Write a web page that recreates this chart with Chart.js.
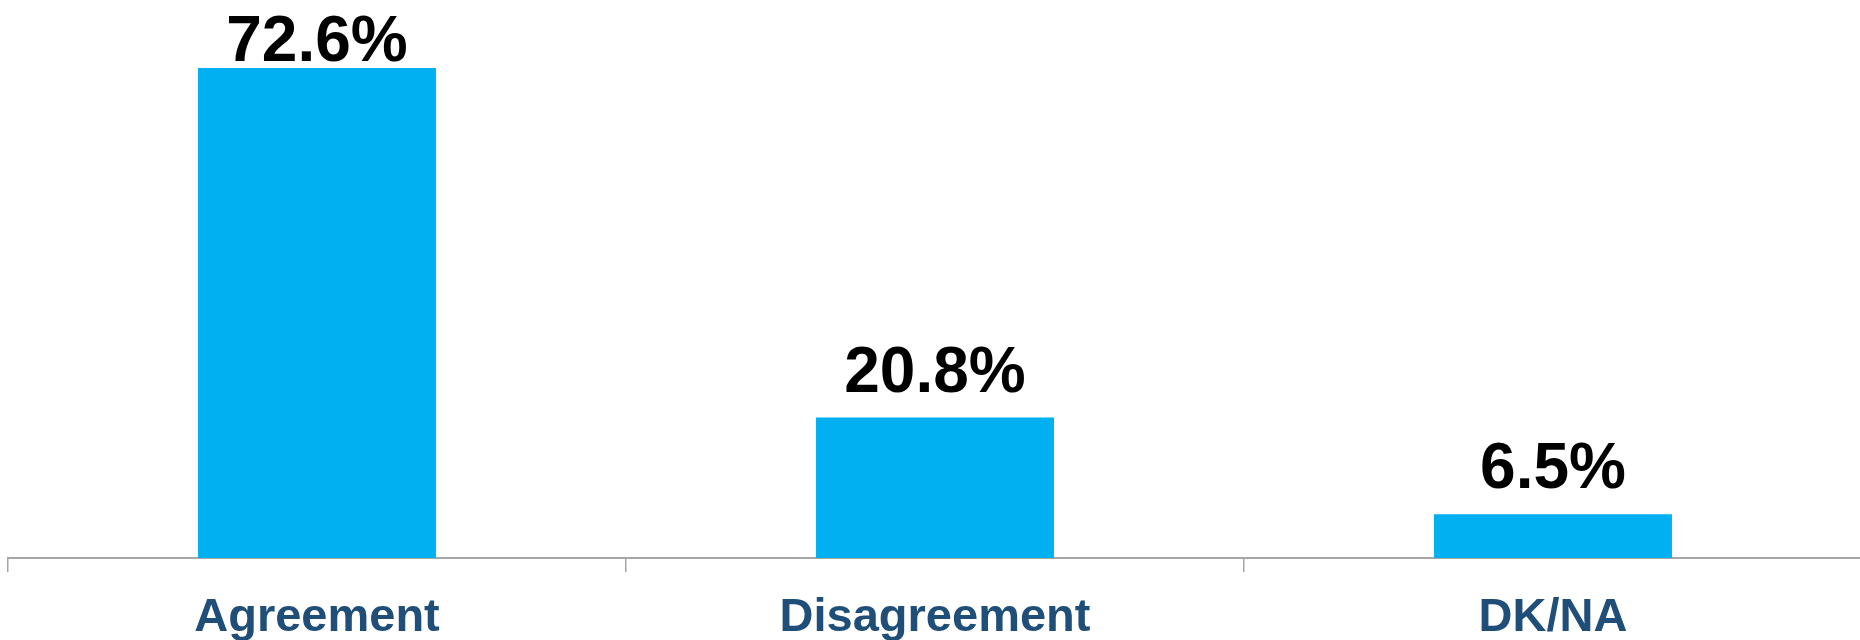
<!DOCTYPE html>
<html>
<head>
<meta charset="utf-8">
<script src="https://cdn.jsdelivr.net/npm/chart.js@4.4.1/dist/chart.umd.min.js"></script>
<style>
  html, body { margin: 0; padding: 0; background: #fff; overflow: hidden; }
  #wrap { width: 1870px; height: 640px; }
</style>
</head>
<body>
<div id="wrap"><canvas id="resChart" width="1870" height="640"></canvas></div>
<script>
const categories = ['Agreement', 'Disagreement', 'DK/NA'];
const shares = [72.6, 20.8, 6.5];

const fontFam = '"Liberation Sans", Arial, sans-serif';

// value labels above the bars, kept inside the top of the canvas
const barLabels = {
    id: 'barLabels',
    afterDatasetsDraw(chart) {
        const ctx = chart.ctx;
        const meta = chart.getDatasetMeta(0);
        ctx.save();
        ctx.font = 'bold 64px ' + fontFam;
        ctx.fillStyle = '#000000';
        ctx.textAlign = 'center';
        ctx.textBaseline = 'alphabetic';
        meta.data.forEach((bar, i) => {
            let y = Math.max(bar.y - 26, 61);
            ctx.fillText(shares[i].toFixed(1) + '%', bar.x, y);
        });
        ctx.restore();
    }
};

const config = {
    type: 'bar',
    data: {
        labels: categories,
        datasets: [{
            data: shares,
            backgroundColor: '#00B0F0',
            borderWidth: 0,
            barPercentage: 0.385,
            categoryPercentage: 1
        }]
    },
    options: {
        responsive: false,
        animation: false,
        layout: { padding: { top: 18, left: 8, right: 8, bottom: 0 } },
        plugins: {
            legend: { display: false },
            tooltip: { enabled: false }
        },
        scales: {
            x: {
                afterFit: (scale) => { scale.height = 82; },
                grid: {
                    display: true,
                    drawOnChartArea: false,
                    offset: true,
                    color: '#A6A6A6',
                    lineWidth: 1.5,
                    tickLength: 14
                },
                border: { display: true, color: '#A6A6A6', width: 2 },
                ticks: {
                    color: '#1F4E79',
                    padding: 18,
                    font: { family: fontFam, size: 47, weight: 'bold' },
                    maxRotation: 0
                }
            },
            y: {
                display: false,
                min: 0,
                max: 80
            }
        }
    },
    plugins: [barLabels]
};

const myChart = new Chart(document.getElementById('resChart'), config);
</script>
</body>
</html>
